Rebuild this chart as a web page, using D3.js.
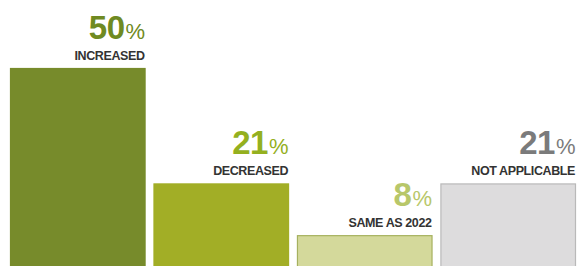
<!DOCTYPE html>
<html>
<head>
<meta charset="utf-8">
<title>change vs 2022</title>
<style>
    body { margin: 0; background: #fff; }
    .pct { font-family: "Liberation Sans", Arial, sans-serif; font-weight: bold; text-anchor: end; letter-spacing: -0.5px; }
    .lbl { font-family: "Liberation Sans", Arial, sans-serif; font-weight: bold; font-size: 12.5px; fill: #333; text-anchor: end; letter-spacing: -0.4px; }
</style>
</head>
<body>
<script src="https://cdn.jsdelivr.net/npm/d3@7"></script>
<script>
    const categories = ["INCREASED", "DECREASED", "SAME AS 2022", "NOT APPLICABLE"];
    const values = [50, 21, 8, 21];
    const fills = ["#778b2b", "#a2ae26", "#d4d99b", "#dddcdd"];
    const strokes = ["#778b2b", "#a2ae26", "#a6b15f", "#b9b9b9"];
    const textColors = ["#6f8a22", "#94b01f", "#b8c76a", "#7b7b7b"];

    const W = 577, H = 266;
    const svg = d3.select("body").append("svg").attr("width", W).attr("height", H);

    const x = d3.scaleBand().domain(categories).range([10, 576]).paddingInner(0.055).paddingOuter(0);
    const y = d3.scaleLinear().domain([0, 50]).range([267, 68]);

    const g = svg.selectAll(".bar").data(categories).enter().append("g");

    g.append("rect")
        .attr("x", (d) => x(d) + 0.5)
        .attr("y", (d, i) => y(values[i]) + 0.5)
        .attr("width", x.bandwidth() - 1)
        .attr("height", (d, i) => y(0) - y(values[i]))
        .attr("fill", (d, i) => fills[i])
        .attr("stroke", (d, i) => strokes[i])
        .attr("stroke-width", 1.2);

    g.append("text")
        .attr("class", "lbl")
        .attr("x", (d) => x(d) + x.bandwidth() - 1)
        .attr("y", (d, i) => y(values[i]) - 8)
        .text((d) => d);

    const pct = g.append("text")
        .attr("class", "pct")
        .attr("x", (d) => x(d) + x.bandwidth() - 1)
        .attr("y", (d, i) => y(values[i]) - 29)
        .attr("fill", (d, i) => textColors[i]);
    pct.append("tspan").attr("font-size", 33).text((d, i) => values[i]);
    pct.append("tspan").attr("font-size", 22).attr("font-weight", "normal").attr("dx", 1).text("%");
</script>
</body>
</html>
